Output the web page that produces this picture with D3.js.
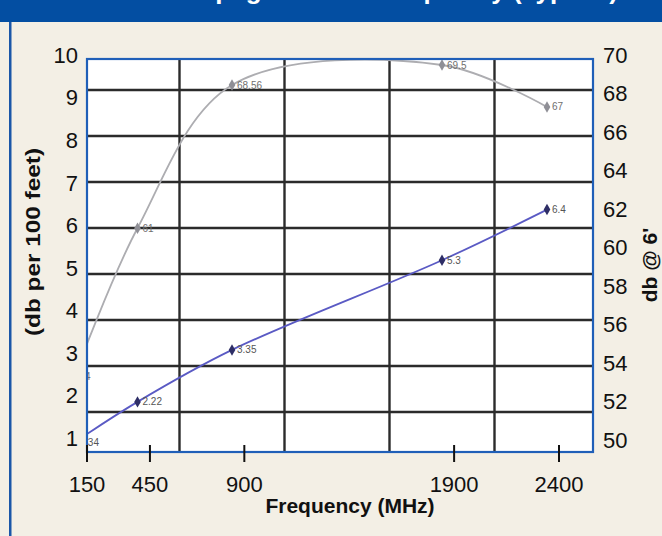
<!DOCTYPE html>
<html>
<head>
<meta charset="utf-8">
<script src="https://cdn.jsdelivr.net/npm/d3@7"></script>
<style>
  body { margin: 0; background: #f3efe5; }
  text { font-family: "Liberation Sans", Arial, sans-serif; }
</style>
</head>
<body>
<div id="chart"></div>
<script>
// Data
const freqs = [150, 450, 900, 1900, 2400];
const lossValues = [1.34, 2.22, 3.35, 5.3, 6.4];
const lossLabels = ["1.34", "2.22", "3.35", "5.3", "6.4"];
const dbValues = [53.3, 61, 68.44, 69.48, 67.3];
const dbLabels = ["54", "61", "68.56", "69.5", "67"];

const xTicks = [150, 450, 900, 1900, 2400];
const leftTicks = [1, 2, 3, 4, 5, 6, 7, 8, 9, 10];
const rightTicks = [50, 52, 54, 56, 58, 60, 62, 64, 66, 68, 70];
const xGridValues = [650, 1150, 1650, 2150];
const yGridValues = [2, 3, 4, 5, 6, 7, 8, 9];

const width = 662;
const height = 536;
const plot = { left: 87, right: 593, top: 59, bottom: 452 };

let svg = d3.select("#chart")
  .append("svg")
  .attr("width", width)
  .attr("height", height);

// Banner and page frame
svg.append("rect")
  .attr("width", width).attr("height", height)
  .attr("fill", "#f3efe5");
svg.append("rect")
  .attr("width", width).attr("height", 22)
  .attr("fill", "#034ea2");
// the title sits above the visible area, only its descenders show
svg.append("text")
  .attr("x", 395).attr("y", -1)
  .attr("text-anchor", "middle")
  .attr("fill", "#fff")
  .attr("font-size", 26)
  .attr("font-weight", "bold")
  .text("Propagation vs. Frequency (Typical)");
svg.append("rect")
  .attr("x", 9).attr("y", 22).attr("width", 2.5).attr("height", height - 22)
  .attr("fill", "#1a56a8");

// Scales for the plotted data
let x = d3.scaleLinear().domain([150, 2400]).range([74.5, 547]);
let yLoss = d3.scaleLinear().domain([2, 9]).range([412, 90]);
let yDb = d3.scaleLinear().domain([50, 70]).range([440, 55]);

// Scales for the printed axis labels
let xAxisScale = d3.scaleLinear().domain([150, 2400]).range([87, 559]);
let yLossAxis = d3.scaleLinear().domain([1, 10]).range([438, 55]);

svg.append("defs").append("clipPath")
  .attr("id", "plot-clip")
  .append("rect")
  .attr("x", plot.left).attr("y", plot.top)
  .attr("width", plot.right - plot.left).attr("height", plot.bottom - plot.top);

svg.append("rect")
  .attr("x", plot.left).attr("y", plot.top)
  .attr("width", plot.right - plot.left).attr("height", plot.bottom - plot.top)
  .attr("fill", "#fff");

let inner = svg.append("g").attr("clip-path", "url(#plot-clip)");

// Grid
inner.selectAll("line.hgrid")
  .data(yGridValues)
  .enter()
    .append("line")
    .attr("class", "hgrid")
    .attr("x1", plot.left).attr("x2", plot.right)
    .attr("y1", d => yLoss(d)).attr("y2", d => yLoss(d))
    .attr("stroke", "#2b2b2b")
    .attr("stroke-width", 2.4);

inner.selectAll("line.vgrid")
  .data(xGridValues)
  .enter()
    .append("line")
    .attr("class", "vgrid")
    .attr("x1", d => x(d)).attr("x2", d => x(d))
    .attr("y1", plot.top).attr("y2", plot.bottom)
    .attr("stroke", "#2b2b2b")
    .attr("stroke-width", 2.4);

// Series
function drawSeries(values, labels, yScale, lineColor, markerColor, labelColor) {
  let points = freqs.map((f, i) => [x(f), yScale(values[i])]);
  let line = d3.line().curve(d3.curveCatmullRom.alpha(0.5));

  inner.append("path")
    .attr("d", line(points))
    .attr("fill", "none")
    .attr("stroke", lineColor)
    .attr("stroke-width", 1.8);

  inner.selectAll(null)
    .data(points)
    .enter()
      .append("path")
      .attr("transform", d => "translate(" + d[0] + "," + d[1] + ")")
      .attr("d", d3.symbol(d3.symbolDiamond).size(38))
      .attr("fill", markerColor);

  inner.selectAll(null)
    .data(points)
    .enter()
      .append("text")
      .attr("x", d => d[0] + 5)
      .attr("y", d => d[1] + 3.5)
      .attr("font-family", "'Liberation Serif', serif")
      .attr("font-size", 10)
      .attr("fill", labelColor)
      .text((d, i) => labels[i]);
}

drawSeries(dbValues, dbLabels, yDb, "#adadb1", "#8f8f96", "#6f6f6f");
drawSeries(lossValues, lossLabels, yLoss, "#5a5ac4", "#2e2e66", "#555");

// Plot border
svg.append("rect")
  .attr("x", plot.left).attr("y", plot.top)
  .attr("width", plot.right - plot.left).attr("height", plot.bottom - plot.top)
  .attr("fill", "none")
  .attr("stroke", "#1f5fb8")
  .attr("stroke-width", 2.2);

// X axis ticks and labels
svg.selectAll("line.xtick")
  .data(xTicks)
  .enter()
    .append("line")
    .attr("class", "xtick")
    .attr("x1", d => xAxisScale(d)).attr("x2", d => xAxisScale(d))
    .attr("y1", 445).attr("y2", 462)
    .attr("stroke", "#111")
    .attr("stroke-width", 2);

svg.selectAll("text.xlabel")
  .data(xTicks)
  .enter()
    .append("text")
    .attr("class", "xlabel")
    .attr("x", d => xAxisScale(d))
    .attr("y", 492)
    .attr("text-anchor", "middle")
    .attr("font-size", 22)
    .attr("fill", "#111")
    .text(d => d);

// Left and right labels
svg.selectAll("text.ylabel")
  .data(leftTicks)
  .enter()
    .append("text")
    .attr("class", "ylabel")
    .attr("x", 78)
    .attr("y", d => yLossAxis(d))
    .attr("dy", "0.36em")
    .attr("text-anchor", "end")
    .attr("font-size", 22)
    .attr("fill", "#111")
    .text(d => d);

svg.selectAll("text.y2label")
  .data(rightTicks)
  .enter()
    .append("text")
    .attr("class", "y2label")
    .attr("x", 603)
    .attr("y", d => yDb(d))
    .attr("dy", "0.36em")
    .attr("font-size", 22)
    .attr("fill", "#111")
    .text(d => d);

// Axis titles
svg.append("text")
  .attr("transform", "translate(40,242) rotate(-90)")
  .attr("text-anchor", "middle")
  .attr("font-size", 21)
  .attr("font-weight", "bold")
  .attr("fill", "#111")
  .attr("textLength", 188)
  .attr("lengthAdjust", "spacingAndGlyphs")
  .text("(db per 100 feet)");

svg.append("text")
  .attr("transform", "translate(657,265) rotate(-90)")
  .attr("text-anchor", "middle")
  .attr("font-size", 21)
  .attr("font-weight", "bold")
  .attr("fill", "#111")
  .text("db @ 6'");

svg.append("text")
  .attr("x", 350).attr("y", 513)
  .attr("text-anchor", "middle")
  .attr("font-size", 21)
  .attr("font-weight", "bold")
  .attr("fill", "#111")
  .text("Frequency (MHz)");
</script>
</body>
</html>
